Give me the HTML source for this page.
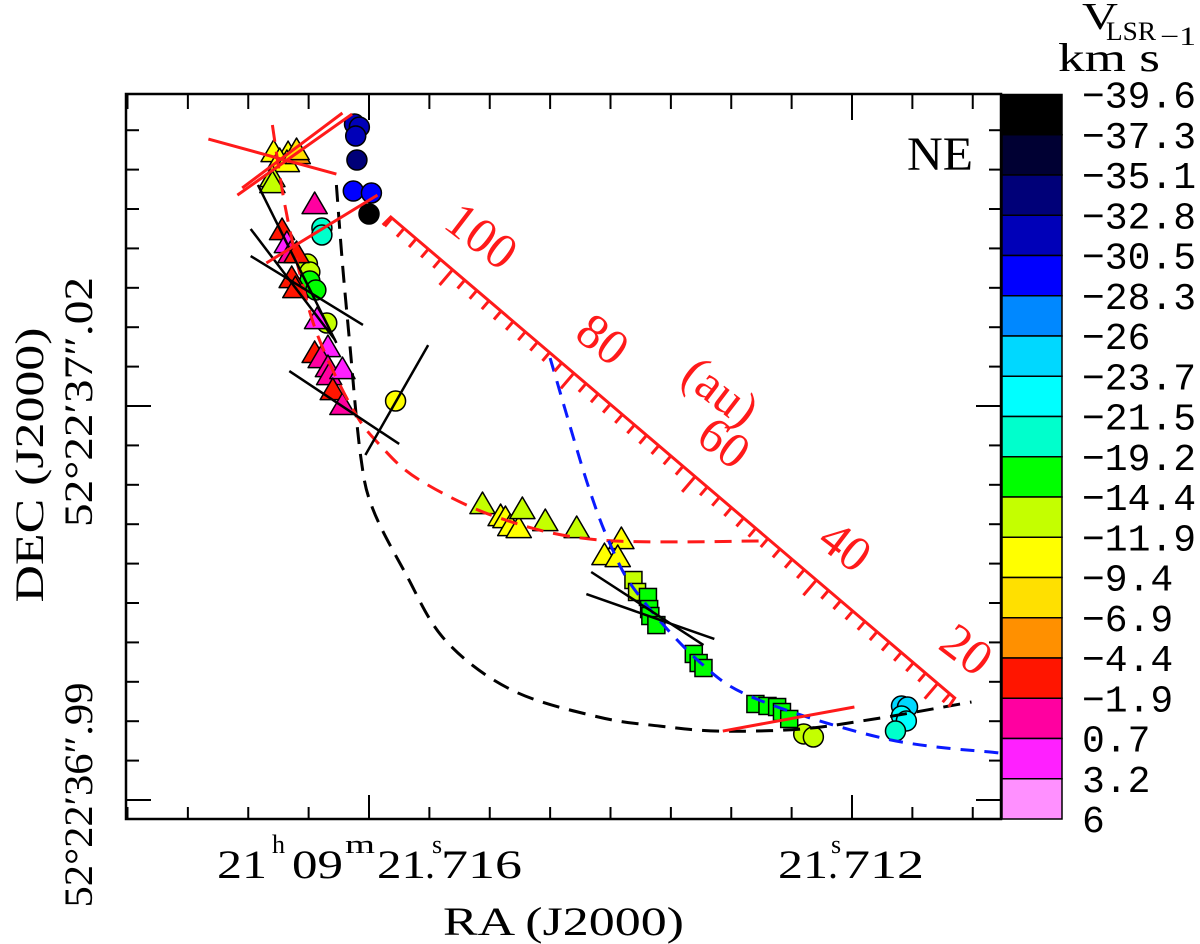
<!DOCTYPE html>
<html><head><meta charset="utf-8">
<style>
html,body{margin:0;padding:0;background:#fff;}
svg{display:block;}
.serif{font-family:"Liberation Serif",serif;}
.mono{font-family:"Liberation Mono",monospace;}
</style></head>
<body>
<svg id="chart" width="1200" height="944" viewBox="0 0 1200 944" xmlns="http://www.w3.org/2000/svg">
  <rect x="0" y="0" width="1200" height="944" fill="#fff"/>
  <g id="marks"></g>
  <g id="lines"></g>
  <g id="scalebar"></g>
  <g id="axes"></g>
  <g id="cbar"></g>
  <text class="serif" x="907" y="170" font-size="48" textLength="66" lengthAdjust="spacingAndGlyphs">NE</text>
  <g class="serif">
    <text x="217" y="878" font-size="40" textLength="50" lengthAdjust="spacingAndGlyphs">21</text>
    <text x="272" y="853" font-size="26">h</text>
    <text x="292" y="878" font-size="40" textLength="51" lengthAdjust="spacingAndGlyphs">09</text>
    <text x="345" y="853" font-size="26" textLength="30" lengthAdjust="spacingAndGlyphs">m</text>
    <text x="377" y="878" font-size="40" textLength="49" lengthAdjust="spacingAndGlyphs">21</text>
    <text x="432" y="853" font-size="26">s</text>
    <text x="425" y="878" font-size="40">.</text>
    <text x="441" y="878" font-size="40" textLength="81" lengthAdjust="spacingAndGlyphs">716</text>
  </g>
  <g class="serif">
    <text x="778" y="878" font-size="40" textLength="50" lengthAdjust="spacingAndGlyphs">21</text>
    <text x="831" y="853" font-size="26">s</text>
    <text x="828" y="878" font-size="40">.</text>
    <text x="843" y="878" font-size="40" textLength="81" lengthAdjust="spacingAndGlyphs">712</text>
  </g>
  <text class="serif" x="443" y="935" font-size="40" textLength="241" lengthAdjust="spacingAndGlyphs">RA (J2000)</text>
  <text class="serif" transform="translate(43,465) rotate(-90)" text-anchor="middle" font-size="40" textLength="275" lengthAdjust="spacingAndGlyphs">DEC (J2000)</text>
  <text class="serif" transform="translate(92,402) rotate(-90)" text-anchor="middle" font-size="40" textLength="250" lengthAdjust="spacingAndGlyphs">52°22′37″.02</text>
  <text class="serif" transform="translate(92,795) rotate(-90)" text-anchor="middle" font-size="40" textLength="225" lengthAdjust="spacingAndGlyphs">52°22′36″.99</text>
  <g class="serif">
    <text x="1082" y="29" font-size="38" textLength="36" lengthAdjust="spacingAndGlyphs">V</text>
    <text x="1106" y="40" font-size="26" textLength="50" lengthAdjust="spacingAndGlyphs">LSR</text>
    <text x="1160" y="45" font-size="26" textLength="36" lengthAdjust="spacingAndGlyphs">−1</text>
    <text x="1058" y="71" font-size="40" textLength="102" lengthAdjust="spacingAndGlyphs">km s</text>
  </g>
</svg>
<script>
// ---------- data ----------
const cbEdges = [-39.6,-37.3,-35.1,-32.8,-30.5,-28.3,-26,-23.7,-21.5,-19.2,-14.4,-11.9,-9.4,-6.9,-4.4,-1.9,0.7,3.2,6];
const cbLabels = ["−39.6","−37.3","−35.1","−32.8","−30.5","−28.3","−26","−23.7","−21.5","−19.2","−14.4","−11.9","−9.4","−6.9","−4.4","−1.9","0.7","3.2","6"];
const cbColors = ["#000000","#000033","#000078","#0000b8","#0000ff","#0088ff","#00d8ff","#00ffff","#00ffcc","#00ff00","#c4ff00","#ffff00","#ffe000","#ff9000","#ff1500","#ff00a0","#ff20ff","#ff90ff"];

const circRA  = [21.71612,21.71608,21.71611,21.71610,21.71613,21.71598,21.71600,21.71639,21.71639,21.71651,21.71649,21.71649,21.71644,21.71635,21.71578,21.71240,21.71232,21.71159,21.71154,21.71159,21.71155,21.71164];
const circDEC = [37.04147,37.04124,37.04056,37.03873,37.03637,37.03622,37.03462,37.03355,37.03302,37.03081,37.03020,37.02952,37.02883,37.02632,37.02038,36.99503,36.99480,36.99716,36.99708,36.99640,36.99602,36.99525];
const circV   = [-31.5,-31.5,-31.5,-34,-29.5,-29.5,-38.5,-20,-20,-13,-13,-16,-16,-13,-10.5,-13,-13,-25,-25,-22.5,-22.5,-20];

const triRA  = [21.71679,21.71667,21.71674,21.71668,21.71659,21.71660,21.71680,21.71680,21.71645,21.71672,21.71668,21.71665,21.71660,21.71664,21.71661,21.71643,21.71634,21.71645,21.71640,21.71634,21.71633,21.71622,21.71630,21.71622,21.71506,21.71491,21.71487,21.71483,21.71476,21.71473,21.71454,21.71428,21.71391,21.71405,21.71394];
const triDEC = [37.03934,37.03926,37.03873,37.03858,37.03919,37.03949,37.03744,37.03698,37.03538,37.03340,37.03241,37.03165,37.03165,37.02975,37.02898,37.02662,37.02449,37.02404,37.02365,37.02297,37.02236,37.02282,37.02122,37.02008,37.01254,37.01162,37.01147,37.01086,37.01071,37.01216,37.01124,37.01071,37.00987,37.00865,37.00850];
const triV   = [-10.5,-10.5,-10.5,-10.5,-5.5,-8,-13,-13,-0.5,-3,2,-0.5,-3,-3,-3,2,2,-3,-0.5,-0.5,-0.5,2,-3,-0.5,-13,-10.5,-10.5,-10.5,-10.5,-13,-13,-13,-10.5,-10.5,-10.5];

const sqRA  = [21.71381,21.71378,21.71369,21.71368,21.71367,21.71362,21.71331,21.71327,21.71323,21.71280,21.71270,21.71262,21.71258,21.71252];
const sqDEC = [37.00675,37.00584,37.00546,37.00454,37.00401,37.00332,37.00112,37.00043,37.00005,36.99731,36.99716,36.99708,36.99670,36.99617];
const sqV   = [-13,-13,-16,-16,-16,-16,-16,-16,-16,-16,-16,-16,-16,-16];

const blackCurveRA  = [21.71627,21.71622,21.71616,21.71607,21.71597,21.71570,21.71537,21.71482,21.71410,21.71359,21.71310,21.71242,21.71177,21.71101];
const blackCurveDEC = [37.03683,37.03089,37.02480,37.01627,37.01220,37.00730,37.00218,36.99838,36.99632,36.99563,36.99525,36.99541,36.99624,36.99746];
const redCurveRA  = [21.71680,21.71670,21.71656,21.71641,21.71613,21.71591,21.71558,21.71492,21.71409,21.71272];
const redCurveDEC = [37.04140,37.03546,37.02959,37.02502,37.01969,37.01703,37.01436,37.01147,37.00980,37.00972];
const blueCurveRA  = [21.71450,21.71420,21.71400,21.71378,21.71327,21.71279,21.71171,21.71078];
const blueCurveDEC = [37.02365,37.01436,37.00942,37.00576,37.00058,36.99769,36.99464,36.99358];

const blackSegRA1  = [21.71692,21.71698,21.71698,21.71666,21.71551,21.71416,21.71420];
const blackSegDEC1 = [37.03683,37.03348,37.03142,37.02266,37.02464,37.00736,37.00568];
const blackSegRA2  = [21.71627,21.71628,21.71605,21.71575,21.71603,21.71323,21.71314];
const blackSegDEC2 = [37.02480,37.02502,37.02617,37.01711,37.01627,37.00180,37.00226];
const redSegRA1  = [21.71733,21.71709,21.71705,21.71685,21.71307];
const redSegDEC1 = [37.04033,37.03606,37.03660,37.03089,36.99525];
const redSegRA2  = [21.71627,21.71614,21.71622,21.71593,21.71198];
const redSegDEC2 = [37.03766,37.04223,37.04231,37.03606,36.99708];

const scaleStartRA = 21.71582, scaleStartDEC = 37.03439;
const scaleEndRA = 21.71115, scaleEndDEC = 36.99777;
const scaleStartAU = 110.2, scaleEndAU = 17.2;
const scaleLabels = [100,80,60,40,20];

const xTicks = [21.718,21.7175,21.717,21.7165,21.716,21.7155,21.715,21.7145,21.714,21.7135,21.713,21.7125,21.712,21.7115,21.711];
const xMajor = [21.716,21.712];
const yTicks = [];
for (let k = 0; k <= 17; k++) yTicks.push(+(36.99 + 0.003*k).toFixed(3));
const yMajor = [36.99,37.02];

// ---------- axes functions ----------
const L=126, R=1001, T=94, B=819;
function X(ra){ return 369 + (21.716 - ra) * 120750; }
function Y(dec){ return 800 - (dec - 36.99) * 13133; }
function colorOf(v){
  for (let i=0;i<cbColors.length;i++){ if (v>=cbEdges[i] && v<cbEdges[i+1]) return cbColors[i]; }
  return cbColors[cbColors.length-1];
}
const NS="http://www.w3.org/2000/svg";
function mk(tag, attrs, parent){
  const e=document.createElementNS(NS,tag);
  for (const k in attrs) e.setAttribute(k, attrs[k]);
  parent.appendChild(e); return e;
}
function smooth(p){
  let d=`M${p[0][0].toFixed(1)},${p[0][1].toFixed(1)}`;
  for(let i=0;i<p.length-1;i++){
    const p0=p[i-1]||p[i], p1=p[i], p2=p[i+1], p3=p[i+2]||p[i+1];
    const c1=[p1[0]+(p2[0]-p0[0])/6, p1[1]+(p2[1]-p0[1])/6];
    const c2=[p2[0]-(p3[0]-p1[0])/6, p2[1]-(p3[1]-p1[1])/6];
    d+=` C${c1[0].toFixed(1)},${c1[1].toFixed(1)} ${c2[0].toFixed(1)},${c2[1].toFixed(1)} ${p2[0].toFixed(1)},${p2[1].toFixed(1)}`;
  }
  return d;
}

// ---------- markers ----------
const gm=document.getElementById('marks');
circRA.forEach((ra,i)=>{
  const c=mk('circle',{cx:X(ra),cy:Y(circDEC[i]),r:10,fill:colorOf(circV[i]),stroke:'#000','stroke-width':1.5},gm);
  
  
});
triRA.forEach((ra,i)=>{
  const x=X(ra), y=Y(triDEC[i]), s=12;
  const t=mk('polygon',{points:`${x},${y-s} ${x+s*1.05},${y+s*0.8} ${x-s*1.05},${y+s*0.8}`,fill:colorOf(triV[i]),stroke:'#000','stroke-width':1.5,'stroke-linejoin':'round'},gm);
  
  
});
sqRA.forEach((ra,i)=>{
  const x=X(ra), y=Y(sqDEC[i]);
  const q=mk('rect',{x:x-8.5,y:y-8.5,width:17,height:17,fill:colorOf(sqV[i]),stroke:'#000','stroke-width':1.5},gm);
  
  
});

// ---------- curves & segments ----------
const gl=document.getElementById('lines');
function curve(ras,decs,color,name,dash){
  const p=ras.map((r,i)=>[X(r),Y(decs[i])]);
  const e=mk('path',{d:smooth(p),fill:'none',stroke:color,'stroke-width':3,'stroke-dasharray':dash},gl);
  
  
}
curve(blackCurveRA,blackCurveDEC,'#000','black-dashed-curve','17 10');
curve(redCurveRA,redCurveDEC,'#ff1a1a','red-dashed-curve','17 10');
curve(blueCurveRA,blueCurveDEC,'#0a1aff','blue-dashed-curve','14 10');
blackSegRA1.forEach((r,i)=>{
  const e=mk('line',{x1:X(r),y1:Y(blackSegDEC1[i]),x2:X(blackSegRA2[i]),y2:Y(blackSegDEC2[i]),stroke:'#000','stroke-width':2.5},gl);
  
  
});
redSegRA1.forEach((r,i)=>{
  const e=mk('line',{x1:X(r),y1:Y(redSegDEC1[i]),x2:X(redSegRA2[i]),y2:Y(redSegDEC2[i]),stroke:'#ff1a1a','stroke-width':3},gl);
  
  
});

// ---------- scale bar ----------
const gs=document.getElementById('scalebar');
(function(){
  const x0=X(scaleStartRA), y0=Y(scaleStartDEC), x1=X(scaleEndRA), y1=Y(scaleEndDEC);
  const len=Math.hypot(x1-x0,y1-y0), ux=(x1-x0)/len, uy=(y1-y0)/len;
  const nx=uy, ny=-ux;
  const bar=mk('path',{d:`M${x0-8},${y0+8} L${x0},${y0} L${x1},${y1} L${x1-6},${y1+9}`,fill:'none',stroke:'#ff1a1a','stroke-width':3},gs);
  
  
  const pxPerAU=len/(scaleStartAU-scaleEndAU);
  for(let au=110; au>=18; au-=2){
    const t=(scaleStartAU-au)*pxPerAU;
    const px=x0+ux*t, py=y0+uy*t;
    const major = au%20===0;
    const tl = major?20:11;
    const tk=mk('line',{x1:px,y1:py,x2:px-nx*tl,y2:py-ny*tl,stroke:'#ff1a1a','stroke-width':3},gs);
    
    
  }
  const ang=Math.atan2(uy,ux)*180/Math.PI - 3;
  scaleLabels.forEach(v=>{
    const t=(scaleStartAU-v)*pxPerAU;
    const cx=x0+ux*t+nx*45, cy=y0+uy*t+ny*45;
    const tx=mk('text',{transform:`translate(${cx},${cy}) rotate(${ang})`,'text-anchor':'middle','dominant-baseline':'central','font-size':50,fill:'#ff1a1a',class:'serif'},gs);
    tx.textContent=String(v);
    
    
  });
  const t=(scaleStartAU-64.5)*pxPerAU;
  const cx=x0+ux*t+nx*82, cy=y0+uy*t+ny*82;
  const au=mk('text',{transform:`translate(${cx},${cy}) rotate(${ang})`,'text-anchor':'middle','dominant-baseline':'central','font-size':50,fill:'#ff1a1a',class:'serif'},gs);
  au.textContent='(au)';
  
  
})();

// ---------- axes ----------
const ga=document.getElementById('axes');
const frame=mk('rect',{x:L,y:T,width:R-L,height:B-T,fill:'none',stroke:'#000','stroke-width':2.5},ga);


xTicks.forEach(v=>{
  const x=X(v), maj=xMajor.includes(v);
  const a=mk('line',{x1:x,y1:B,x2:x,y2:B-(maj?24:12),stroke:'#000','stroke-width':2},ga);
  
  
  const b=mk('line',{x1:x,y1:T,x2:x,y2:T+(maj?26:15),stroke:'#000','stroke-width':2},ga);
  
  
});
yTicks.forEach(v=>{
  const y=Y(v), maj=yMajor.some(m=>Math.abs(m-v)<1e-6);
  const a=mk('line',{x1:L,y1:y,x2:L+(maj?25:13),y2:y,stroke:'#000','stroke-width':2},ga);
  
  
  const b=mk('line',{x1:R,y1:y,x2:R-(maj?25:12),y2:y,stroke:'#000','stroke-width':2},ga);
  
  
});

// ---------- colorbar ----------
const gc=document.getElementById('cbar');
const cbTop=94.5, cbBot=819, cbL=1002, cbR=1062;
const cellH=(cbBot-cbTop)/cbColors.length;
cbColors.forEach((c,i)=>{
  const r=mk('rect',{x:cbL,y:cbTop+i*cellH,width:cbR-cbL,height:cellH,fill:c,stroke:'#000','stroke-width':1.5},gc);
  
  
});
cbLabels.forEach((s,i)=>{
  const y=cbTop+i*cellH;
  const t=mk('text',{x:1082,y:y+13,'font-size':38,class:'mono'},gc);
  t.textContent=s;
  
  
});
</script>
</body></html>
